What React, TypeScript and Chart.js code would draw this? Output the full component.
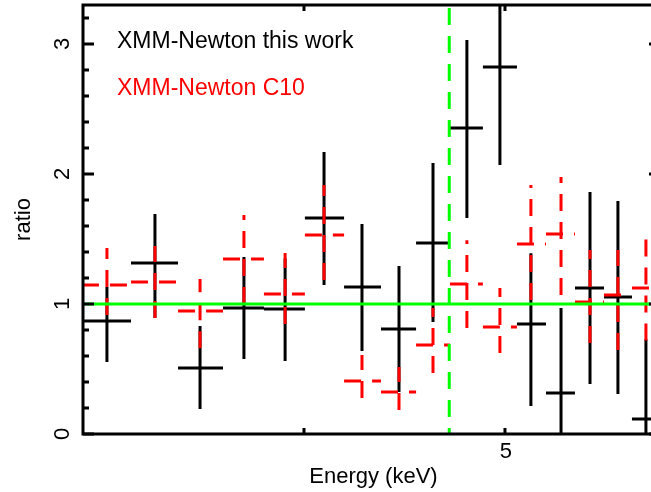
import React, { useEffect, useRef } from 'react';
import { Chart, registerables } from 'chart.js';

Chart.register(...registerables);

// ---- Data (energy in keV, ratio data/model) ----
const binLow = [3.126, 3.301, 3.478, 3.656, 3.826, 4.004, 4.182, 4.357, 4.530, 4.704, 4.879, 5.067, 5.233, 5.404, 5.581, 5.757];
const binHigh = [3.301, 3.478, 3.656, 3.826, 4.004, 4.182, 4.357, 4.530, 4.704, 4.879, 5.067, 5.233, 5.404, 5.581, 5.757, 5.939];
const energy = [3.214, 3.390, 3.564, 3.742, 3.917, 4.090, 4.266, 4.445, 4.616, 4.793, 4.972, 5.146, 5.321, 5.495, 5.668, 5.847];

const thisWorkRatio = [0.869, 1.315, 0.508, 0.969, 0.962, 1.662, 1.131, 0.808, 1.469, 2.354, 2.823, 0.846, 0.315, 1.123, 1.054, 0.115];
const thisWorkLow = [0.554, 0.892, 0.192, 0.577, 0.562, 1.146, 0.638, 0.323, 0.862, 1.662, 2.069, 0.215, 0.0, 0.385, 0.308, 0.0];
const thisWorkHigh = [1.131, 1.692, 0.831, 1.362, 1.35, 2.169, 1.615, 1.292, 2.085, 3.031, 3.6, 1.39, 0.969, 1.862, 1.792, 0.73];

const c10Ratio = [1.146, 1.169, 0.946, 1.346, 1.077, 1.531, 0.408, 0.323, 0.685, 1.154, 0.823, 1.462, 1.538, 1.015, 1.069, 1.123];
const c10Low = [0.915, 0.892, 0.66, 1.0, 0.846, 1.185, 0.277, 0.185, 0.469, 0.815, 0.623, 1.03, 1.069, 0.7, 0.646, 0.72];
const c10High = [1.431, 1.446, 1.192, 1.685, 1.392, 1.915, 0.608, 0.515, 0.969, 1.49, 1.123, 1.915, 1.977, 1.415, 1.415, 1.508];

const referenceRatio = 1;
const lineEnergy = 4.70;

const xMin = 3.1297;
const xVisibleMax = 5.880;
const xFrameMax = 5.939;
const yMin = 0;
const yMax = 3.3;

const xTickValues = [4, 5];
const xTickLabels = ['', '5'];
const yMajorTicks = [0, 1, 2, 3];
const yMinorStep = 0.2;

const legendTexts = ['XMM-Newton this work', 'XMM-Newton C10'];
const xTitle = 'Energy (keV)';
const yTitle = 'ratio';

const FONT = "'Liberation Sans', Arial, Helvetica, sans-serif";

function crossPoints(lo: number[], hi: number[], x: number[], y: number[], ylo: number[], yhi: number[]) {
  const pts: { x: number; y: number | null }[] = [];
  for (let i = 0; i < x.length; i++) {
    pts.push({ x: lo[i], y: y[i] }, { x: hi[i], y: y[i] }, { x: hi[i], y: null });
    pts.push({ x: x[i], y: ylo[i] }, { x: x[i], y: yhi[i] }, { x: x[i], y: null });
  }
  return pts;
}

const framePlugin = {
  id: 'pgplotFrame',
  afterDraw(chart: any) {
    const { ctx, chartArea, scales } = chart;
    const xs = scales.x;
    const ys = scales.y;
    const left = chartArea.left;
    const top = chartArea.top;
    const bottom = chartArea.bottom;
    const right = xs.getPixelForValue(xFrameMax);
    ctx.save();
    ctx.strokeStyle = '#000';
    ctx.lineWidth = 3;
    ctx.lineCap = 'square';
    ctx.beginPath();
    ctx.moveTo(left, top);
    ctx.lineTo(right, top);
    ctx.lineTo(right, bottom);
    ctx.lineTo(left, bottom);
    ctx.closePath();
    ctx.stroke();

    ctx.lineCap = 'butt';
    // x ticks
    xTickValues.forEach((v) => {
      const px = xs.getPixelForValue(v);
      ctx.beginPath();
      ctx.moveTo(px, bottom);
      ctx.lineTo(px, bottom - 6);
      ctx.moveTo(px, top);
      ctx.lineTo(px, top + 6);
      ctx.stroke();
    });
    // y ticks
    const n = Math.round((yMax - yMin) / yMinorStep);
    for (let i = 0; i <= n; i++) {
      const v = Math.round((yMin + i * yMinorStep) * 10) / 10;
      if (v > yMax) continue;
      const py = ys.getPixelForValue(v);
      const len = yMajorTicks.includes(v) ? 11 : 6;
      ctx.beginPath();
      ctx.moveTo(left, py);
      ctx.lineTo(left + len, py);
      ctx.moveTo(right, py);
      ctx.lineTo(right - len, py);
      ctx.stroke();
    }

    ctx.fillStyle = '#000';
    ctx.font = `22px ${FONT}`;
    // x tick labels
    ctx.textAlign = 'center';
    ctx.textBaseline = 'alphabetic';
    xTickValues.forEach((v, i) => {
      if (!xTickLabels[i]) return;
      ctx.fillText(xTickLabels[i], xs.getPixelForValue(v) + 1, 458);
    });
    // y tick labels (rotated)
    yMajorTicks.forEach((v) => {
      const py = ys.getPixelForValue(v);
      ctx.save();
      ctx.translate(69, py);
      ctx.rotate(-Math.PI / 2);
      ctx.fillText(String(v), 0, 0);
      ctx.restore();
    });
    // axis titles
    ctx.fillText(xTitle, (left + right) / 2 + 2, 483);
    ctx.save();
    ctx.translate(30, (top + bottom) / 2);
    ctx.rotate(-Math.PI / 2);
    ctx.fillText(yTitle, 0, 0);
    ctx.restore();

    // legend texts
    ctx.textAlign = 'left';
    ctx.font = `23px ${FONT}`;
    ctx.fillStyle = '#000';
    ctx.fillText(legendTexts[0], 117, 48);
    ctx.fillStyle = '#ff0000';
    ctx.fillText(legendTexts[1], 117, 95);
    ctx.restore();
  },
};

export default function App() {
  const canvasRef = useRef<HTMLCanvasElement | null>(null);

  useEffect(() => {
    document.body.style.margin = '0';
    document.documentElement.style.overflow = 'hidden';
    const canvas = canvasRef.current;
    if (!canvas) return;

    const common = {
      showLine: true,
      pointRadius: 0,
      pointHoverRadius: 0,
      fill: false,
      tension: 0,
      spanGaps: false,
      clip: 0,
    };

    const chart = new Chart(canvas, {
      type: 'scatter',
      data: {
        datasets: [
          {
            ...common,
            label: 'line energy',
            data: [
              { x: lineEnergy, y: yMax },
              { x: lineEnergy, y: yMin },
            ],
            borderColor: '#00ff00',
            borderWidth: 3,
            borderDash: [17, 11],
            borderDashOffset: 25,
            order: 0,
          },
          {
            ...common,
            label: 'unity',
            data: [
              { x: xMin, y: referenceRatio },
              { x: xFrameMax, y: referenceRatio },
            ],
            borderColor: '#00ff00',
            borderWidth: 3,
            order: 0,
          },
          {
            ...common,
            label: legendTexts[1],
            data: crossPoints(binLow, binHigh, energy, c10Ratio, c10Low, c10High),
            borderColor: '#ff0000',
            borderWidth: 3,
            borderDash: [17, 11],
            order: 1,
          },
          {
            ...common,
            label: legendTexts[0],
            data: crossPoints(binLow, binHigh, energy, thisWorkRatio, thisWorkLow, thisWorkHigh),
            borderColor: '#000000',
            borderWidth: 3,
            order: 2,
          },
        ] as any,
      },
      options: {
        animation: false,
        responsive: false,
        devicePixelRatio: 1,
        events: [],
        layout: { padding: { left: 83, top: 5, right: 0, bottom: 58 } },
        scales: {
          x: { type: 'logarithmic', min: xMin, max: xVisibleMax, display: false },
          y: { type: 'linear', min: yMin, max: yMax, display: false },
        },
        plugins: {
          legend: { display: false },
          tooltip: { enabled: false },
        },
      },
      plugins: [framePlugin],
    } as any);

    return () => {
      chart.destroy();
    };
  }, []);

  return (
    <canvas
      ref={canvasRef}
      width={651}
      height={492}
      style={{ display: 'block', width: '651px', height: '492px' }}
    />
  );
}
